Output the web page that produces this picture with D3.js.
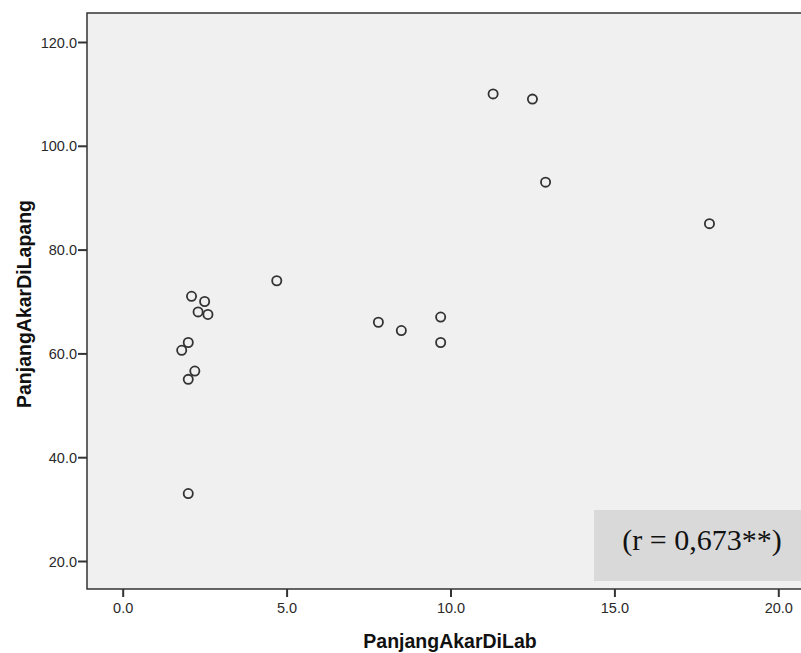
<!DOCTYPE html>
<html><head><meta charset="utf-8">
<script src="https://cdn.jsdelivr.net/npm/d3@7"></script>
<style>body{margin:0;background:#fff}svg{display:block}</style>
</head><body><svg id="c" width="801" height="653"></svg>
<script>
const xVals = [2.0, 2.1, 2.5, 2.3, 2.6, 2.0, 1.8, 2.2, 2.0, 4.7, 7.8, 8.5, 9.7, 9.7, 11.3, 12.5, 12.9, 17.9];
const yVals = [33.0, 71.0, 70.0, 68.0, 67.5, 62.1, 60.6, 56.6, 55.0, 74.0, 66.0, 64.4, 67.0, 62.1, 110.0, 109.0, 93.0, 85.0];
const xTicks = [0, 5, 10, 15, 20];
const yTicks = [20, 40, 60, 80, 100, 120];
const xLabel = "PanjangAkarDiLab";
const yLabel = "PanjangAkarDiLapang";
const note = "(r = 0,673**)";

const svg = d3.select("#c");
const L = 87, R = 801, T = 13, B = 589;
const x = d3.scaleLinear().domain([0, 20]).range([122.7, 778.3]);
const y = d3.scaleLinear().domain([20, 120]).range([561, 42]);

svg.append("rect").attr("x", L).attr("y", T).attr("width", R - L + 5).attr("height", B - T)
  .attr("fill", "#f0f0f0").attr("stroke", "#333").attr("stroke-width", 1.5);

const fmt = d3.format(".1f");
const xa = svg.append("g").attr("transform", `translate(0,${B})`)
  .call(d3.axisBottom(x).tickValues(xTicks).tickFormat(fmt).tickSize(8).tickSizeOuter(0));
const ya = svg.append("g").attr("transform", `translate(${L},0)`)
  .call(d3.axisLeft(y).tickValues(yTicks).tickFormat(fmt).tickSize(9).tickSizeOuter(0));
[xa, ya].forEach(a => {
  a.select(".domain").remove();
  a.selectAll("line").attr("stroke", "#333").attr("stroke-width", 2);
  a.selectAll("text").attr("font-family", "Arial, 'Liberation Sans', sans-serif")
    .attr("font-size", 14.5).attr("fill", "#2a2a2a");
});
xa.selectAll("text").attr("y", 0).attr("dy", 24);
ya.selectAll("text").attr("x", -10).attr("dy", "0.35em");

svg.append("g").selectAll("circle").data(xVals).join("circle")
  .attr("cx", (d) => x(d)).attr("cy", (d, i) => y(yVals[i])).attr("r", 4.6)
  .attr("fill", "none").attr("stroke", "#333").attr("stroke-width", 1.8);

svg.append("rect").attr("x", 594).attr("y", 510).attr("width", 210).attr("height", 71).attr("fill", "#d9d9d9");
svg.append("text").attr("x", 702).attr("y", 550).attr("text-anchor", "middle")
  .attr("font-family", "'Liberation Serif', 'Times New Roman', serif").attr("font-size", 30).attr("fill", "#111")
  .text(note);

svg.append("text").attr("x", 450).attr("y", 648).attr("text-anchor", "middle")
  .attr("font-family", "Arial, 'Liberation Sans', sans-serif").attr("font-weight", "bold").attr("font-size", 19.5).attr("fill", "#111")
  .text(xLabel);
svg.append("text").attr("transform", `translate(31,304) rotate(-90)`).attr("text-anchor", "middle")
  .attr("font-family", "Arial, 'Liberation Sans', sans-serif").attr("font-weight", "bold").attr("font-size", 19.5).attr("fill", "#111")
  .text(yLabel);
</script></body></html>
